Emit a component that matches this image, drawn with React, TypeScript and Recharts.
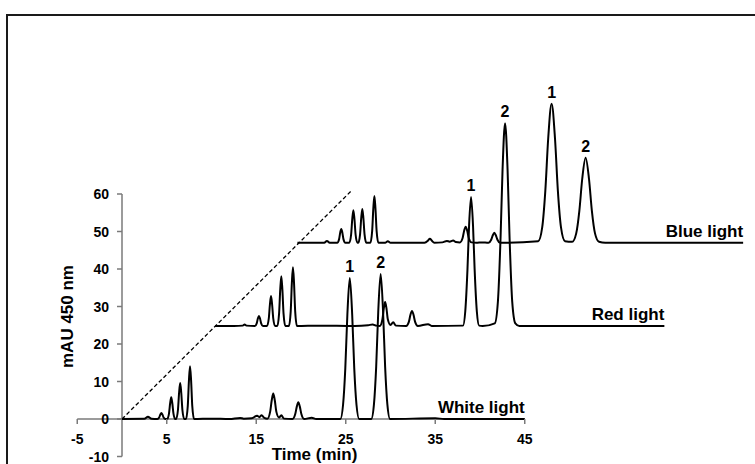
import { LabelList, Line, LineChart, ReferenceLine, XAxis, YAxis } from "recharts";

// Chromatograms at 450 nm, stacked along a diagonal offset.
// Each trace is [time (min), mAU] on the shared plot coordinates.
const whiteLight: [number, number][] = [
  [0, 0], [2.5, 0.05], [2.9, 0.6], [3.3, 0.05],
  [3.95, 0], [4.15, 0.4], [4.28, 1.17], [4.4, 1.6], [4.52, 1.17], [4.65, 0.4], [4.85, 0],
  [5.05, 0], [5.25, 1.45], [5.38, 4.2], [5.5, 5.8], [5.62, 4.2], [5.75, 1.45], [5.95, 0],
  [6.05, 0], [6.25, 2.4], [6.38, 7.0], [6.5, 9.6], [6.62, 7.0], [6.75, 2.4], [6.95, 0],
  [7.15, 0], [7.35, 3.5], [7.48, 10.3], [7.6, 14.1], [7.72, 10.3], [7.85, 3.5], [8.05, 0],
  [10, 0.1], [12, 0], [13.2, 0.3], [13.6, 0.1], [14.5, 0.2], [15.1, 0.9], [15.35, 0.5], [15.6, 1.0], [15.9, 0.3],
  [16.25, 0.1], [16.55, 1.9], [16.73, 5.0], [16.9, 6.8], [17.07, 5.0], [17.25, 1.9], [17.55, 0.4], [17.8, 1.0], [18.1, 0.1],
  [19.05, 0], [19.35, 1.25], [19.53, 3.3], [19.7, 4.5], [19.87, 3.3], [20.05, 1.25], [20.35, 0], [21.2, 0.35], [21.7, 0],
  [24.4, 0], [24.7, 3.8], [24.95, 13.5], [25.18, 27.8], [25.45, 37.6], [25.72, 27.8], [25.95, 13.5], [26.2, 3.8], [26.5, 0],
  [27.85, 0], [28.15, 3.9], [28.4, 13.9], [28.63, 28.6], [28.9, 38.7], [29.17, 28.6], [29.4, 13.9], [29.65, 3.9], [29.95, 0],
  [35, 0.2], [36, 0], [45, 0],
];

const redLight: [number, number][] = [
  [10.4, 24.8], [12.5, 24.8], [13.5, 24.9], [13.7, 25.2], [13.9, 24.9],
  [14.85, 24.8], [15.05, 25.5], [15.18, 26.8], [15.3, 27.5], [15.42, 26.8], [15.55, 25.5], [15.75, 24.8],
  [16.2, 24.8], [16.4, 26.8], [16.53, 30.6], [16.65, 32.8], [16.77, 30.6], [16.9, 26.8], [17.1, 24.8],
  [17.35, 24.8], [17.55, 28.1], [17.68, 34.5], [17.8, 38.1], [17.92, 34.5], [18.05, 28.1], [18.25, 24.8],
  [18.65, 24.8], [18.85, 28.7], [18.98, 36.3], [19.1, 40.5], [19.22, 36.3], [19.35, 28.7], [19.55, 24.8],
  [22, 24.9], [26, 24.8], [27.5, 25.0], [28.0, 25.2], [28.4, 24.9],
  [28.8, 24.8], [29.1, 26.6], [29.25, 29.5], [29.4, 31.2], [29.55, 29.5], [29.7, 26.6], [30.0, 25.1], [30.3, 25.8], [30.6, 24.9],
  [31.75, 24.8], [32.05, 25.9], [32.23, 27.8], [32.4, 28.8], [32.57, 27.8], [32.75, 25.9], [33.05, 24.8], [34.2, 25.3], [34.6, 24.8],
  [38.1, 24.9], [38.35, 28.6], [38.6, 39.9], [38.78, 51.6], [39.0, 59.2], [39.22, 51.6], [39.4, 39.9], [39.65, 28.6], [39.9, 24.9],
  [40.3, 24.8],
  [41.65, 25.5], [42.0, 31.3], [42.3, 48.6], [42.52, 66.5], [42.8, 78.9], [43.08, 66.5], [43.3, 48.6], [43.6, 31.3], [43.95, 25.5],
  [44.4, 24.8], [60.6, 24.8],
];

const blueLight: [number, number][] = [
  [19.6, 47.0], [22.6, 47.0], [22.9, 47.5], [23.2, 47.0],
  [24.05, 47], [24.25, 47.9], [24.38, 49.7], [24.5, 50.7], [24.62, 49.7], [24.75, 47.9], [24.95, 47],
  [25.4, 47], [25.6, 49.2], [25.73, 53.4], [25.85, 55.7], [25.97, 53.4], [26.1, 49.2], [26.3, 47],
  [26.4, 47], [26.6, 49.25], [26.73, 53.6], [26.85, 56.0], [26.97, 53.6], [27.1, 49.25], [27.3, 47],
  [27.75, 47], [27.95, 50.1], [28.08, 56.1], [28.2, 59.5], [28.32, 56.1], [28.45, 50.1], [28.65, 47],
  [29.4, 47.0], [29.7, 47.4], [30.0, 47.0], [33.8, 47.0],
  [34.2, 47.6], [34.4, 48.1], [34.6, 47.6], [34.9, 47.0],
  [35.8, 47.1], [36.3, 47.5], [36.6, 47.3], [37.0, 47.6], [37.3, 47.2],
  [37.75, 47.1], [38.05, 48.2], [38.23, 50.2], [38.4, 51.3], [38.57, 50.2], [38.75, 48.2], [39.05, 47.1],
  [39.6, 47.0], [40.2, 47.1],
  [40.95, 47], [41.25, 47.8], [41.43, 49.0], [41.6, 49.7], [41.77, 49.0], [41.95, 47.8], [42.25, 47.0],
  [46.5, 47.4], [46.95, 51.1], [47.3, 60.9], [47.62, 74.8], [48.0, 84.1], [48.38, 74.8], [48.7, 60.9], [49.05, 51.1], [49.5, 47.4],
  [50.3, 47.25], [50.75, 49.5], [51.1, 55.5], [51.42, 64.0], [51.8, 69.7], [52.18, 64.0], [52.5, 55.5], [52.85, 49.5], [53.3, 47.25],
  [54, 47.0], [69.4, 47.0],
];

// dashed line through the start of each stacked trace
const offsetGuide: [number, number][] = [[0, 0], [25.6, 60.8]];

// apex time -> peak number
const whitePeaks: [number, string][] = [[25.45, "1"], [28.9, "2"]];
const redPeaks: [number, string][] = [[39.0, "1"], [42.8, "2"]];
const bluePeaks: [number, string][] = [[48.0, "1"], [51.8, "2"]];

const xTicks = [-5, 5, 15, 25, 35, 45];
const yTicks = [-10, 0, 10, 20, 30, 40, 50, 60];
const X_DOMAIN: [number, number] = [-5, 70];
const Y_DOMAIN: [number, number] = [-10, 90];

const W = 755;
const H = 464;
const PLOT = { left: 77.25, right: 748.5, top: 81.5, bottom: 456.5 };
// pixel position where the axes cross (x = 0, y = 0)
const ZERO_X = PLOT.left + ((0 - X_DOMAIN[0]) / (X_DOMAIN[1] - X_DOMAIN[0])) * (PLOT.right - PLOT.left);
const ZERO_Y = PLOT.top + ((Y_DOMAIN[1] - 0) / (Y_DOMAIN[1] - Y_DOMAIN[0])) * (PLOT.bottom - PLOT.top);

const FONT = '"Liberation Sans", Arial, sans-serif';
const AXIS = "#7a7a7a";

type Pt = { t: number; v: number; peak?: string; name?: string };

function toPoints(pairs: [number, number][], peaks: [number, string][], name?: string): Pt[] {
  return pairs.map(([t, v], i) => ({
    t,
    v,
    peak: peaks.find(([pt]) => pt === t)?.[1],
    name: i === pairs.length - 1 ? name : undefined,
  }));
}

const white = toPoints(whiteLight, whitePeaks, "White light");
const red = toPoints(redLight, redPeaks, "Red light");
const blue = toPoints(blueLight, bluePeaks, "Blue light");
const guide = toPoints(offsetGuide, []);

function XTick(props: any) {
  const { x, payload } = props;
  return (
    <g>
      <line x1={x} x2={x} y1={ZERO_Y} y2={ZERO_Y + 5} stroke={AXIS} strokeWidth={1.5} />
      <text x={x} y={ZERO_Y + 24.5} textAnchor="middle" fontFamily={FONT} fontWeight="bold" fontSize={14} fill="#000">
        {payload.value}
      </text>
    </g>
  );
}

function YTick(props: any) {
  const { y, payload } = props;
  return (
    <g>
      <line x1={ZERO_X - 5} x2={ZERO_X} y1={y} y2={y} stroke={AXIS} strokeWidth={1.5} />
      <text x={ZERO_X - 13} y={y} dy="0.36em" textAnchor="end" fontFamily={FONT} fontWeight="bold" fontSize={14} fill="#000">
        {payload.value}
      </text>
    </g>
  );
}

function pointOf(props: any) {
  const vb = props.viewBox;
  return { x: props.x ?? vb?.x, y: props.y ?? vb?.y };
}

function PeakNumber(props: any) {
  if (props.value == null) return null;
  const { x, y } = pointOf(props);
  return (
    <text x={x} y={y - 6} textAnchor="middle" fontFamily={FONT} fontWeight="bold" fontSize={16} fill="#000">
      {props.value}
    </text>
  );
}

function TraceName(props: any) {
  if (props.value == null) return null;
  const { x, y } = pointOf(props);
  return (
    <text x={x} y={y - 6} textAnchor="end" fontFamily={FONT} fontWeight="bold" fontSize={17} fill="#000">
      {props.value}
    </text>
  );
}

export default function App() {
  const series = [white, red, blue];
  return (
    <div style={{ position: "absolute", left: 0, top: 0, width: W, height: H, background: "#fff", overflow: "hidden" }}>
      <div
        style={{
          position: "absolute",
          left: 6,
          top: 14,
          width: W - 6,
          height: H - 14,
          borderTop: "2px solid #1a1a1a",
          borderLeft: "2px solid #1a1a1a",
          boxSizing: "border-box",
        }}
      />
      <div style={{ position: "absolute", left: 0, top: 0 }}>
        <LineChart
          width={W}
          height={H}
          margin={{ top: PLOT.top, right: W - PLOT.right, bottom: 0, left: 0 }}
        >
          <XAxis
            type="number"
            dataKey="t"
            domain={X_DOMAIN}
            ticks={xTicks}
            allowDataOverflow
            axisLine={false}
            tickLine={false}
            height={H - PLOT.bottom}
            tick={XTick}
            interval={0}
          />
          <YAxis
            type="number"
            dataKey="v"
            domain={Y_DOMAIN}
            ticks={yTicks}
            allowDataOverflow
            axisLine={false}
            tickLine={false}
            width={PLOT.left}
            tick={YTick}
            interval={0}
          />
          <ReferenceLine segment={[{ x: -5, y: 0 }, { x: 45, y: 0 }]} stroke={AXIS} strokeWidth={1.5} />
          <ReferenceLine segment={[{ x: 0, y: -10 }, { x: 0, y: 60 }]} stroke={AXIS} strokeWidth={1.5} />
          <Line
            data={guide}
            dataKey="v"
            type="linear"
            stroke="#000"
            strokeWidth={1.3}
            strokeDasharray="4 2.5"
            dot={false}
            activeDot={false}
            isAnimationActive={false}
          />
          {series.map((data, i) => (
            <Line
              key={i}
              data={data}
              dataKey="v"
              type="monotone"
              stroke="#000"
              strokeWidth={2}
              dot={false}
              activeDot={false}
              isAnimationActive={false}
            >
              <LabelList dataKey="peak" content={PeakNumber} />
              <LabelList dataKey="name" content={TraceName} />
            </Line>
          ))}
        </LineChart>
      </div>
      <svg width={W} height={H} style={{ position: "absolute", left: 0, top: 0, pointerEvents: "none" }}>
        <text
          x={73}
          y={316.5}
          transform="rotate(-90 73 316.5)"
          textAnchor="middle"
          fontFamily={FONT}
          fontWeight="bold"
          fontSize={17}
          fill="#000"
        >
          mAU 450 nm
        </text>
        <text x={314.5} y={460} textAnchor="middle" fontFamily={FONT} fontWeight="bold" fontSize={17} fill="#000">
          Time (min)
        </text>
      </svg>
    </div>
  );
}
